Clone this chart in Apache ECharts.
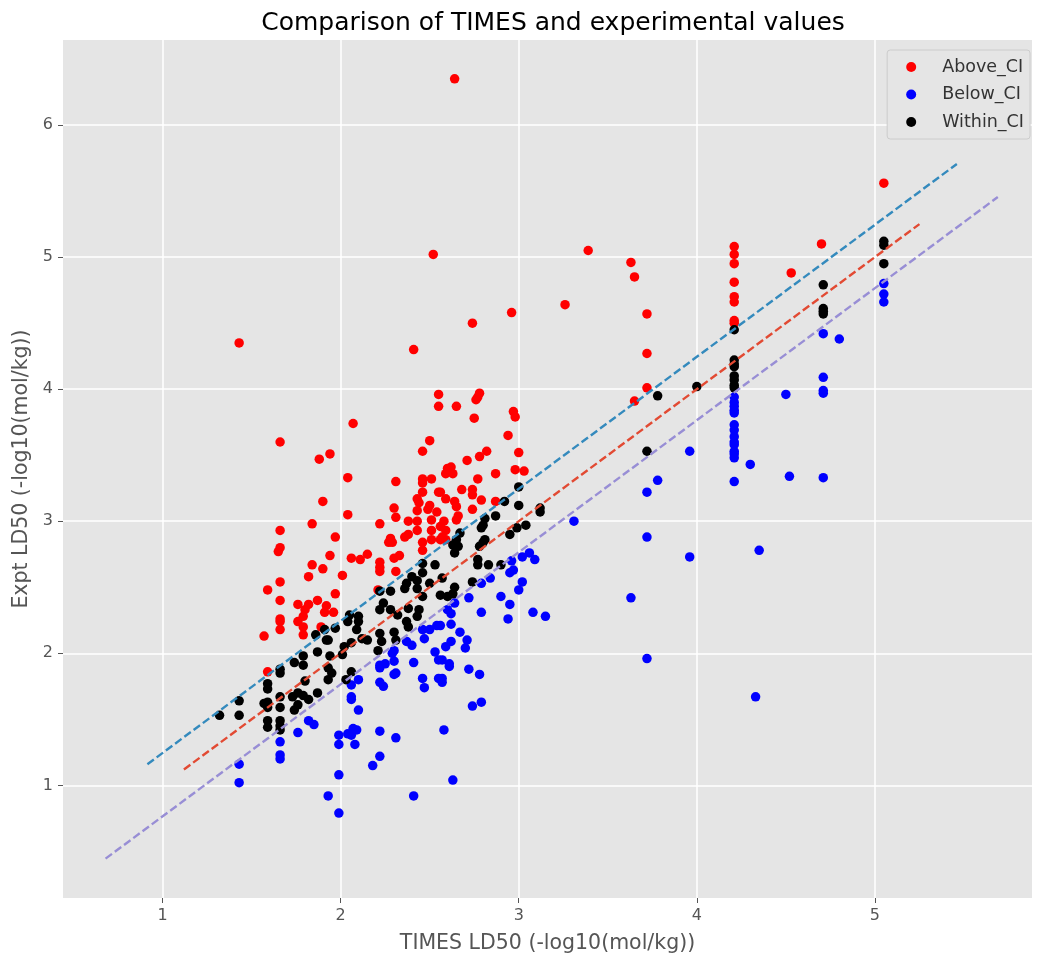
<!DOCTYPE html>
<html>
<head>
<meta charset="utf-8">
<script src="https://cdn.jsdelivr.net/npm/echarts@6/dist/echarts.min.js"></script>
<style>
html,body{margin:0;padding:0;background:#fff;}
#chart{width:1050px;height:965px;}
</style>
</head>
<body>
<div id="chart"></div>
<script>
// ---- data ----
const seriesNames = ['Above_CI', 'Below_CI', 'Within_CI'];
const xTicks = [1, 2, 3, 4, 5];
const yTicks = [1, 2, 3, 4, 5, 6];

const aboveCI = [
[2.64,6.35],[2.52,5.02],[3.39,5.05],[3.26,4.64],[2.96,4.58],[2.74,4.50],[1.43,4.35],[2.41,4.30],
[3.63,4.96],[3.65,4.85],[3.72,4.57],[3.72,4.27],[3.72,4.01],[3.65,3.91],
[4.21,5.08],[4.21,5.02],[4.21,4.95],[4.21,4.81],[4.21,4.70],[4.21,4.66],[4.21,4.52],[4.21,4.50],
[4.70,5.10],[4.53,4.88],[5.05,5.56],
[2.55,3.96],[2.55,3.87],[2.65,3.87],[2.78,3.97],[2.77,3.94],[2.76,3.92],[2.75,3.78],[2.97,3.83],[2.98,3.79],[2.94,3.65],
[2.07,3.74],[2.50,3.61],[1.66,3.60],
[1.66,2.93],[1.66,2.80],[1.65,2.77],[1.66,2.54],[1.59,2.48],[1.66,2.40],[1.66,2.26],
[1.57,2.13],[1.66,2.24],[1.66,2.18],[1.59,1.86],
[1.79,2.20],[1.79,2.14],[1.89,2.20],[1.76,2.24],
[2.46,3.53],[1.88,3.47],[1.94,3.51],[2.04,3.33],[2.31,3.30],[2.46,3.32],[2.51,3.32],[2.46,3.29],[2.46,3.22],[2.55,3.22],
[2.43,3.17],[2.44,3.14],[2.50,3.12],[1.90,3.15],[2.30,3.10],[2.49,3.09],[2.54,3.07],[2.04,3.05],[2.31,3.03],[2.51,3.01],
[2.38,3.00],[2.43,3.00],[1.84,2.98],[2.22,2.98],[2.43,2.93],[2.51,2.93],[2.38,2.90],[2.36,2.88],[2.28,2.87],[2.27,2.84],
[2.29,2.84],[1.97,2.88],[2.46,2.84],[2.51,2.86],[2.46,2.78],[1.94,2.74],[2.06,2.72],[2.11,2.71],[2.15,2.75],[2.22,2.69],
[2.22,2.65],[2.22,2.62],[2.30,2.72],[2.33,2.74],[2.31,2.62],[1.84,2.67],[1.90,2.64],[1.82,2.58],[2.01,2.59],[1.97,2.45],
[1.87,2.40],[1.76,2.37],[1.82,2.37],[1.80,2.33],[1.92,2.36],[1.91,2.31],[1.96,2.31],[2.21,2.48],[1.79,2.28],[2.43,3.08],
[2.82,3.53],[2.78,3.49],[2.71,3.46],[3.00,3.52],[2.60,3.40],[2.62,3.41],[2.59,3.36],[2.63,3.36],[2.77,3.32],[2.87,3.36],
[2.98,3.39],[3.03,3.38],[2.68,3.24],[2.74,3.24],[2.74,3.20],[2.79,3.16],[2.56,3.22],[2.59,3.17],[2.64,3.15],[2.65,3.11],
[2.74,3.09],[2.87,3.15],[2.66,3.04],[2.65,3.01],[2.58,3.00],[2.56,2.96],[2.59,2.93],[2.57,2.88],[2.59,2.86],[2.56,2.86]
];

const belowCI = [
[1.66,1.33],[1.66,1.23],[1.66,1.20],[1.43,1.16],[1.43,1.02],
[1.76,1.40],[1.99,1.38],[1.99,1.31],[2.04,1.39],[2.07,1.43],[2.09,1.42],[2.06,1.38],[2.08,1.31],[2.22,1.41],[2.31,1.36],
[2.22,1.22],[2.18,1.15],[1.99,1.08],[1.93,0.92],[1.99,0.79],[2.41,0.92],
[1.82,1.49],[1.85,1.46],[2.06,1.67],[2.06,1.65],[2.10,1.57],[2.06,1.76],[2.10,1.80],[2.22,1.78],[2.24,1.75],[2.22,1.89],
[2.22,1.91],[2.25,1.92],[2.30,1.84],[2.31,1.85],[2.30,1.94],[2.41,1.93],[2.46,1.81],[2.47,1.74],[2.53,2.01],[2.55,1.95],
[2.55,1.81],[2.46,2.18],[2.50,2.18],[2.54,2.21],[2.47,2.11],[2.40,2.06],[2.37,2.09],[2.29,2.00],[2.30,2.02],
[3.31,3.00],[3.06,2.76],[3.09,2.71],[3.02,2.73],[2.96,2.70],[2.97,2.63],[2.95,2.61],[3.02,2.54],[3.00,2.48],[2.84,2.57],
[2.79,2.53],[2.72,2.42],[2.90,2.43],[2.95,2.37],[2.79,2.31],[2.64,2.38],[2.60,2.33],[2.62,2.30],[3.08,2.31],[3.15,2.28],[2.94,2.26],
[2.62,2.22],[2.67,2.16],[2.71,2.10],[2.70,2.04],[2.62,2.09],[2.59,2.05],[2.57,1.95],[2.61,1.92],[2.61,1.90],[2.72,1.88],
[2.78,1.84],[2.57,1.81],[2.57,1.78],[2.74,1.60],[2.79,1.63],[2.58,1.42],[2.63,1.04],[2.56,2.21],
[3.96,3.53],[4.21,3.58],[4.21,3.51],[4.21,3.48],[4.30,3.43],[4.52,3.34],[4.71,3.33],[4.21,3.30],[3.78,3.31],[3.72,3.22],
[3.72,2.88],[3.96,2.73],[4.35,2.78],[3.63,2.42],[3.72,1.96],[4.33,1.67],
[4.21,3.94],[4.21,3.90],[4.21,3.87],[4.21,3.84],[4.21,3.82],[4.21,3.73],[4.21,3.69],[4.21,3.64],[4.21,3.60],[4.21,3.53],
[4.50,3.96],[4.71,4.42],[4.71,4.09],[4.71,3.99],[4.71,3.97],[4.80,4.38],[5.05,4.80],[5.05,4.72],[5.05,4.66]
];

const withinCI = [
[1.66,1.88],[1.66,1.85],[1.59,1.77],[1.59,1.73],[1.43,1.64],[1.32,1.53],[1.43,1.53],[1.59,1.63],[1.59,1.59],[1.57,1.62],
[1.66,1.67],[1.66,1.59],[1.59,1.49],[1.59,1.44],[1.66,1.49],[1.66,1.45],[1.66,1.42],
[1.74,1.93],[1.79,1.98],[1.79,1.91],[1.80,1.79],[1.73,1.67],[1.76,1.70],[1.79,1.68],[1.82,1.65],[1.74,1.57],[1.76,1.61],
[1.87,2.01],[1.87,1.70],[1.93,2.10],[1.94,1.98],[1.93,1.89],[1.95,1.85],[1.93,1.80],[2.01,1.99],[2.02,2.05],[2.06,2.08],
[2.06,1.86],[2.03,1.80],[2.09,2.18],[2.12,2.11],[2.15,2.10],[2.04,2.24],[2.10,2.24],[2.22,2.15],[2.23,2.09],[2.21,2.02],
[2.30,2.16],[2.31,2.10],[2.37,2.24],[2.38,2.20],[1.97,2.19],[1.91,2.18],[1.86,2.14],[1.92,2.10],
[2.46,2.68],[2.46,2.61],[2.43,2.55],[2.37,2.53],[2.40,2.58],[2.43,2.49],[2.36,2.49],[2.53,2.67],[2.22,2.47],[2.28,2.47],
[2.24,2.38],[2.28,2.33],[2.22,2.33],[2.32,2.29],[2.38,2.34],[2.44,2.33],[2.43,2.28],[2.46,2.43],[2.05,2.29],[2.10,2.28],[2.50,2.53],
[3.00,3.26],[2.92,3.15],[3.00,3.12],[3.12,3.10],[3.12,3.07],[2.87,3.04],[2.81,3.02],[2.80,2.97],[2.79,2.95],[3.04,2.97],
[2.99,2.95],[2.95,2.90],[2.67,2.91],[2.65,2.86],[2.63,2.82],[2.66,2.81],[2.64,2.76],[2.81,2.86],[2.78,2.81],[2.80,2.84],
[2.77,2.71],[2.77,2.67],[2.83,2.67],[2.90,2.67],[2.74,2.54],[2.57,2.57],[2.64,2.50],[2.63,2.45],[2.60,2.43],[2.56,2.44],
[3.72,3.53],[4.21,4.45],[4.21,4.22],[4.21,4.19],[4.21,4.17],[4.21,4.10],[4.21,4.07],[4.21,4.03],[4.21,4.01],[4.00,4.02],
[3.78,3.95],[4.71,4.79],[4.71,4.61],[4.71,4.59],[4.71,4.57],[5.05,5.12],[5.05,5.09],[5.05,4.95]
];

// reference lines (dashed)
const upperLine = [[0.915, 1.16], [5.46, 5.705]];
const identityLine = [[1.12, 1.12], [5.25, 5.25]];
const lowerLine = [[0.68, 0.445], [5.69, 5.455]];

// ---- chart ----
const chart = echarts.init(document.getElementById('chart'), null, {renderer: 'canvas'});
const FONT = 'DejaVu Sans';
const scatterColors = ['#FF0000', '#0000FF', '#000000'];
const scatterData = [aboveCI, belowCI, withinCI];

const series = seriesNames.map((name, i) => ({
  name: name,
  type: 'scatter',
  data: scatterData[i],
  symbol: 'circle',
  symbolSize: 9.5,
  itemStyle: {color: scatterColors[i], opacity: 1},
  z: 2 + i,
  emphasis: {disabled: true}
}));

const lineDefs = [
  {data: upperLine, color: '#348ABD'},
  {data: identityLine, color: '#E24A33'},
  {data: lowerLine, color: '#988ED5'}
];
lineDefs.forEach(d => series.push({
  type: 'line',
  data: d.data,
  symbol: 'none',
  silent: true,
  z: 10,
  lineStyle: {color: d.color, width: 2.4, type: [8, 3.5]}
}));

chart.setOption({
  animation: false,
  backgroundColor: '#ffffff',
  textStyle: {fontFamily: FONT},
  title: {
    text: 'Comparison of TIMES and experimental values',
    left: 548,
    top: 6,
    textAlign: 'center',
    textStyle: {fontFamily: FONT, fontSize: 25, fontWeight: 'normal', color: '#000000'}
  },
  legend: {
    data: seriesNames,
    orient: 'vertical',
    right: 20,
    top: 50,
    backgroundColor: '#E5E5E5',
    borderColor: '#CCCCCC',
    borderWidth: 1,
    borderRadius: 3,
    padding: [8, 6, 8, 19],
    itemGap: 9.5,
    itemWidth: 10,
    itemHeight: 10,
    icon: 'circle',
    textStyle: {fontFamily: FONT, fontSize: 17.5, color: '#333333', lineHeight: 16, padding: [0, 0, 0, 21]}
  },
  grid: {
    left: 63, right: 18, top: 40, bottom: 67,
    show: true, backgroundColor: '#E5E5E5', borderWidth: 0,
    containLabel: false
  },
  xAxis: {
    type: 'value',
    min: 0.441, max: 5.882,
    splitNumber: 5, minInterval: 1, maxInterval: 1,
    name: 'TIMES LD50 (-log10(mol/kg))',
    nameLocation: 'middle',
    nameGap: 35,
    nameTextStyle: {fontFamily: FONT, fontSize: 20.5, color: '#555555'},
    axisLine: {show: false},
    axisTick: {show: true, length: 5, lineStyle: {color: '#555555'}, customValues: xTicks},
    axisLabel: {fontFamily: FONT, fontSize: 16, color: '#555555', margin: 10, customValues: xTicks,
      formatter: v => String(Math.round(v))},
    splitLine: {show: true, lineStyle: {color: '#FFFFFF', width: 1.5}}
  },
  yAxis: {
    type: 'value',
    min: 0.147, max: 6.644,
    splitNumber: 6, minInterval: 1, maxInterval: 1,
    name: 'Expt LD50 (-log10(mol/kg))',
    nameLocation: 'middle',
    nameGap: 28,
    nameRotate: 90,
    nameTextStyle: {fontFamily: FONT, fontSize: 20.5, color: '#555555'},
    axisLine: {show: false},
    axisTick: {show: true, length: 5, lineStyle: {color: '#555555'}, customValues: yTicks},
    axisLabel: {fontFamily: FONT, fontSize: 16, color: '#555555', margin: 10, customValues: yTicks,
      formatter: v => String(Math.round(v))},
    splitLine: {show: true, lineStyle: {color: '#FFFFFF', width: 1.5}}
  },
  series: series
});
</script>
</body>
</html>
